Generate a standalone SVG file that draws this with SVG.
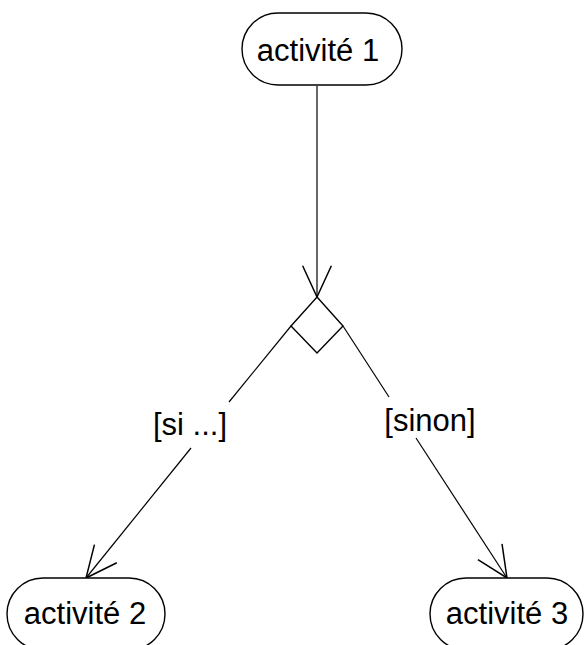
<svg xmlns="http://www.w3.org/2000/svg" width="584" height="645" viewBox="0 0 584 645">
<style>
.node{fill:#fff;stroke:#000;stroke-width:1.4}
.lbl{font-family:"Liberation Sans",Arial,sans-serif;font-size:31px;fill:#000;text-anchor:middle}
.edge{fill:none;stroke:#000;stroke-width:1.2}
</style>
<defs>
<marker id="arr" markerUnits="userSpaceOnUse" markerWidth="40" markerHeight="40" viewBox="-30 -15 32 30" refX="0" refY="0" orient="auto">
<path d="M-25,-11.5 L0,0 L-25,11.5" fill="none" stroke="#000" stroke-width="1.2"/>
</marker>
</defs>
<rect width="584" height="645" fill="#fff"/>
<g id="connectors">
<line class="edge" x1="317" y1="86" x2="317" y2="297" marker-end="url(#arr)"/>
<line class="edge" x1="291" y1="326" x2="229" y2="402"/>
<line class="edge" x1="191" y1="448" x2="86" y2="578" marker-end="url(#arr)"/>
<line class="edge" x1="343" y1="326" x2="389" y2="397"/>
<line class="edge" x1="416" y1="438" x2="507" y2="578" marker-end="url(#arr)"/>
<text class="lbl" x="190" y="435">[si ...]</text>
<text class="lbl" x="430" y="431">[sinon]</text>
</g>
<g id="decision">
<polygon class="node" points="317,297 343,326 317,353 291,326"/>
</g>
<g id="activite1">
<rect class="node" x="242" y="13" width="160" height="72" rx="36" ry="36"/>
<text class="lbl" x="318" y="61">activité 1</text>
</g>
<g id="activite2">
<rect class="node" x="7" y="578" width="158" height="72" rx="36" ry="36"/>
<text class="lbl" x="85" y="624">activité 2</text>
</g>
<g id="activite3">
<rect class="node" x="430" y="578" width="153" height="72" rx="36" ry="36"/>
<text class="lbl" x="507" y="624">activité 3</text>
</g>
</svg>
